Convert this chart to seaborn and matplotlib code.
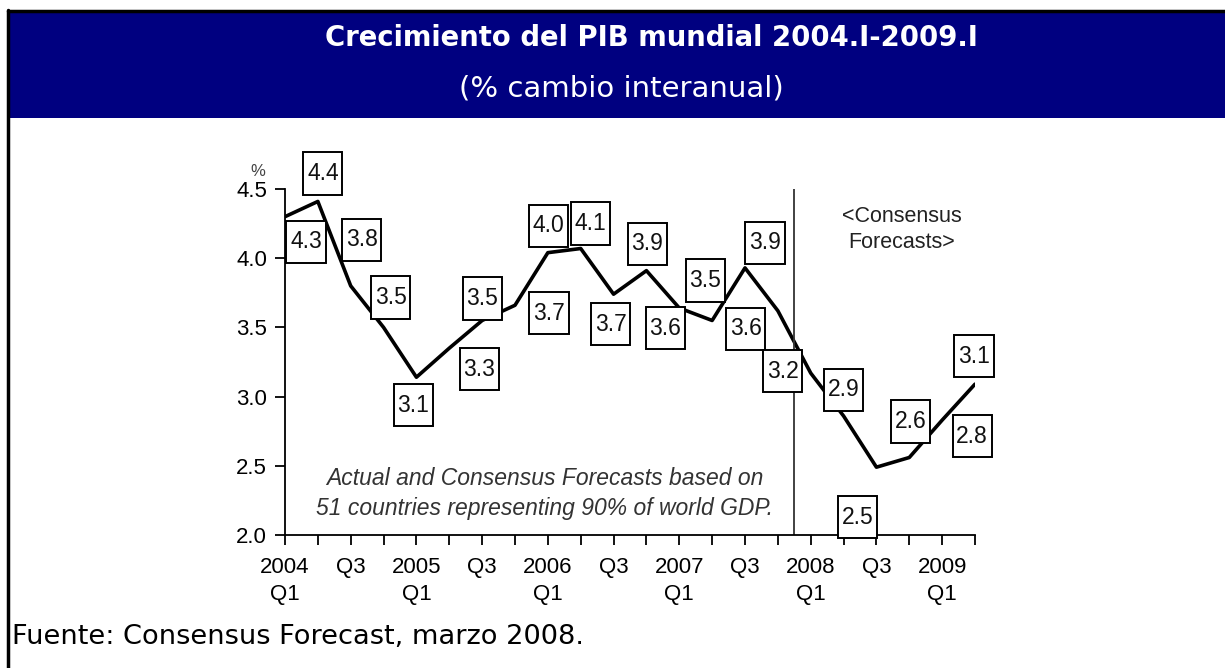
import numpy as np
import pandas as pd
import matplotlib
matplotlib.use("Agg")
import matplotlib.pyplot as plt
from matplotlib.patches import Rectangle
from matplotlib.lines import Line2D
from matplotlib.path import Path
import seaborn as sns

# ---------------------------------------------------------------------------
# data (world GDP growth, % y/y)
# ---------------------------------------------------------------------------
quarters = ["2004Q1", "2004Q2", "2004Q3", "2004Q4",
            "2005Q1", "2005Q2", "2005Q3", "2005Q4",
            "2006Q1", "2006Q2", "2006Q3", "2006Q4",
            "2007Q1", "2007Q2", "2007Q3", "2007Q4",
            "2008Q1", "2008Q2", "2008Q3", "2008Q4",
            "2009Q1", "2009Q2"]
growth = [4.30, 4.41, 3.80, 3.50, 3.14, 3.35, 3.55, 3.66,
          4.04, 4.07, 3.74, 3.91, 3.64, 3.55, 3.93, 3.62,
          3.17, 2.86, 2.49, 2.56, 2.83, 3.09]
point_labels = ["4.3", "4.4", "3.8", "3.5", "3.1", "3.3", "3.5", "3.7",
                "4.0", "4.1", "3.7", "3.9", "3.6", "3.5", "3.9", "3.6",
                "3.2", "2.9", "2.5", "2.6", "2.8", "3.1"]
tick_labels = ["2004\nQ1", "", "Q3", "", "2005\nQ1", "", "Q3", "",
               "2006\nQ1", "", "Q3", "", "2007\nQ1", "", "Q3", "",
               "2008\nQ1", "", "Q3", "", "2009\nQ1", ""]
y_ticks = [2.0, 2.5, 3.0, 3.5, 4.0, 4.5]
forecast_start = 15.5   # divider between actuals and forecasts

title = "Crecimiento del PIB mundial 2004.I-2009.I"
subtitle = "(% cambio interanual)"
note = "Actual and Consensus Forecasts based on\n51 countries representing 90% of world GDP."
forecast_note = "<Consensus\nForecasts>"
source = "Fuente: Consensus Forecast, marzo 2008."

# label box offsets from each point, in pixels (layout only)
label_offsets = [(21, -25), (5, 28), (11, 46), (7, 30), (-3, -28), (30, -21),
                 (0, 22), (34, -8), (1, 27), (10, 25), (-3, -30), (1, 27),
                 (-14, -20), (-7, 40), (20, 25), (-32, -18), (-28, 2),
                 (0, 26), (-19, -50), (1, 36), (30, -16), (-1, 28)]

df = pd.DataFrame({"idx": np.arange(len(quarters)), "quarter": quarters, "growth": growth})

# ---------------------------------------------------------------------------
sns.set_style("ticks")
plt.rcParams["font.family"] = ["Liberation Sans", "DejaVu Sans"]

W, H = 1225, 668
fig = plt.figure(figsize=(W / 100, H / 100), dpi=100)
fig.patch.set_facecolor("white")


def fx(px):
    return px / W


def fy(py):
    return 1 - py / H


# header banner + frame lines
fig.patches.append(Rectangle((fx(8), fy(118)), fx(W) - fx(8), fy(12) - fy(118),
                             transform=fig.transFigure, facecolor="#000080",
                             edgecolor="none", zorder=0))
fig.lines.append(Line2D([fx(8), fx(W)], [fy(11), fy(11)], transform=fig.transFigure,
                        color="black", lw=2.5))
fig.lines.append(Line2D([fx(8), fx(8)], [fy(10), fy(H)], transform=fig.transFigure,
                        color="black", lw=2.5))
fig.text(fx(651), fy(38), title, color="white", fontsize=19.8, fontweight="bold",
         family="DejaVu Sans", ha="center", va="center")
fig.text(fx(621), fy(88), subtitle, color="white", fontsize=21,
         family="DejaVu Sans", ha="center", va="center")
fig.text(fx(12), fy(637), source, color="black", fontsize=19.6,
         family="DejaVu Sans", ha="left", va="center")

# chart
ax = fig.add_axes([fx(285), fy(535), fx(975) - fx(285), fy(189) - fy(535)])
sns.lineplot(data=df, x="idx", y="growth", ax=ax, color="black", lw=2.6)

ax.set_xlim(0, len(quarters) - 1)
ax.set_ylim(2.0, 4.5)
ax.set_xticks(df["idx"])
ax.set_xticklabels(tick_labels, linespacing=1.35)
ax.set_yticks(y_ticks)
ax.set_yticklabels([f"{v:.1f}" for v in y_ticks])
ax.set_xlabel("")
ax.set_ylabel("")
sns.despine(ax=ax)
for side in ["left", "bottom"]:
    ax.spines[side].set_linewidth(1.3)
    ax.spines[side].set_color("black")
ax.tick_params(axis="both", direction="out", length=7, width=1.3, colors="black",
               labelsize=16)
ax.tick_params(axis="x", pad=9)
ax.tick_params(axis="y", pad=6)

ax.axvline(forecast_start, ymin=0, ymax=1.0, color="#333333", lw=1.3)


def label_box(x0, y0, width, height, mutation_size):
    px = 0.16 * mutation_size
    py = 0.42 * mutation_size
    x0, y0 = x0 - px, y0 - py
    x1, y1 = x0 + width + 2 * px, y0 + height + 2 * py
    return Path([(x0, y0), (x1, y0), (x1, y1), (x0, y1), (x0, y0)], closed=True)


for i, (val, lab) in enumerate(zip(growth, point_labels)):
    dx, dy = label_offsets[i]
    ax.annotate(lab, xy=(i, val), xytext=(dx, dy), textcoords="offset pixels",
                ha="center", va="center", fontsize=16.5, color="#111111",
                annotation_clip=False,
                bbox=dict(boxstyle=label_box, facecolor="white",
                          edgecolor="black", lw=1.4))

ax.text(7.9, 2.30, note, style="italic", fontsize=16.5, color="#333333",
        ha="center", va="center", linespacing=1.4)
ax.text(18.78, 4.21, forecast_note, fontsize=15.5, color="#222222",
        ha="center", va="center", linespacing=1.3)
fig.text(fx(258), fy(172), "%", fontsize=12, color="#444444", ha="center", va="center")

fig.savefig("out.png", dpi=100)
